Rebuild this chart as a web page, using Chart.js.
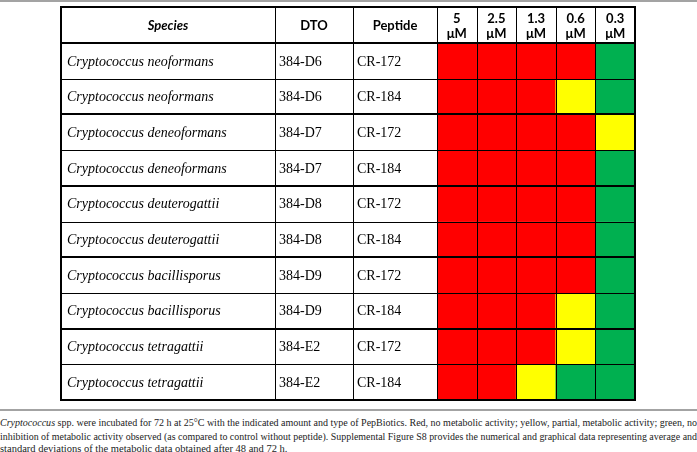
<!DOCTYPE html>
<html><head><meta charset="utf-8">
<script src="https://cdn.jsdelivr.net/npm/chart.js@4.4.1/dist/chart.umd.min.js"></script>
<style>
html,body{margin:0;padding:0;background:#fff}
body{width:697px;height:452px;overflow:hidden;position:relative}
#c{position:absolute;left:0;top:0}
.topline{position:absolute;left:0;top:0;width:697px;height:2px;background:#a3a3a3}
.sep{position:absolute;left:0;top:409px;width:697px;height:2px;background:#a3a3a3}
.cap{position:absolute;left:0;font-family:"Liberation Serif",serif;font-size:10.5px;line-height:13px;color:#222;white-space:nowrap;transform-origin:0 50%}
</style></head>
<body>
<div class="topline"></div>
<canvas id="c" width="697" height="405"></canvas>
<div class="sep"></div>
<div class="cap fit" style="top:416px"><i>Cryptococcus</i> spp. were incubated for 72 h at 25°C with the indicated amount and type of PepBiotics. Red, no metabolic activity; yellow, partial, metabolic activity; green, no</div>
<div class="cap fit" style="top:430px">inhibition of metabolic activity observed (as compared to control without peptide). Supplemental Figure S8 provides the numerical and graphical data representing average and</div>
<div class="cap" style="top:442px">standard deviations of the metabolic data obtained after 48 and 72 h.</div>
<script>
// ---- data ----
const concLabels = ['5 μM', '2.5 μM', '1.3 μM', '0.6 μM', '0.3 μM'];
const headers = ['Species', 'DTO', 'Peptide'];
const species = [
  'Cryptococcus neoformans', 'Cryptococcus neoformans',
  'Cryptococcus deneoformans', 'Cryptococcus deneoformans',
  'Cryptococcus deuterogattii', 'Cryptococcus deuterogattii',
  'Cryptococcus bacillisporus', 'Cryptococcus bacillisporus',
  'Cryptococcus tetragattii', 'Cryptococcus tetragattii'
];
const dto = ['384-D6', '384-D6', '384-D7', '384-D7', '384-D8', '384-D8', '384-D9', '384-D9', '384-E2', '384-E2'];
const peptide = ['CR-172', 'CR-184', 'CR-172', 'CR-184', 'CR-172', 'CR-184', 'CR-172', 'CR-184', 'CR-172', 'CR-184'];
// 0 = red (no metabolic activity), 1 = yellow (partial), 2 = green (no inhibition)
const activity = [
  [0, 0, 0, 0, 2],
  [0, 0, 0, 1, 2],
  [0, 0, 0, 0, 1],
  [0, 0, 0, 0, 2],
  [0, 0, 0, 0, 2],
  [0, 0, 0, 0, 2],
  [0, 0, 0, 0, 2],
  [0, 0, 0, 1, 2],
  [0, 0, 0, 1, 2],
  [0, 0, 1, 2, 2]
];

// ---- styles / layout ----
const statusColors = ['#FF0000', '#FFFF00', '#00B050'];
const colEdges = [61, 275, 353]; // left edges of text columns (px); heatmap starts at chartArea.left
const headFont = '"Lato", "Open Sans", sans-serif';
const bodyFont = '"Liberation Serif", "Times New Roman", serif';

// fit full-width caption lines to the page width
document.querySelectorAll('.fit').forEach(el => {
  const w = el.getBoundingClientRect().width;
  const spaces = (el.textContent.match(/ /g) || []).length;
  if (w > 697) {
    el.style.transform = 'scaleX(' + (697 / w) + ')';
  } else {
    el.style.wordSpacing = ((697 - w) / spaces) + 'px';
  }
});

const tablePlugin = {
  id: 'tablePlugin',
  afterDatasetsDraw(chart) {
    const ctx = chart.ctx, a = chart.chartArea, ys = chart.scales.y, xs = chart.scales.x;
    const top = xs.top, bottom = a.bottom, left = colEdges[0], right = a.right;
    const edges = colEdges.concat([a.left]);
    ctx.save();
    ctx.fillStyle = '#000';
    ctx.textBaseline = 'middle';
    ctx.textAlign = 'center';
    const hy = (top + a.top) / 2 + 1;
    headers.forEach((h, k) => {
      ctx.font = (k === 0 ? 'italic bold ' : 'bold ') + '13px ' + headFont;
      ctx.fillText(h, (edges[k] + edges[k + 1]) / 2, hy);
    });
    ctx.textAlign = 'left';
    species.forEach((s, i) => {
      const y = (ys.getPixelForValue(i) + ys.getPixelForValue(i + 1)) / 2 + 1;
      ctx.font = 'italic 14px ' + bodyFont;
      ctx.fillText(s, edges[0] + 6, y);
      ctx.font = '14px ' + bodyFont;
      ctx.fillText(dto[i], edges[1] + 4, y);
      ctx.fillText(peptide[i], edges[2] + 4, y);
    });
    ctx.strokeStyle = '#000';
    const hline = (y, w) => {
      ctx.lineWidth = w; ctx.beginPath();
      const yy = w % 2 ? Math.round(y) + 0.5 : Math.round(y);
      ctx.moveTo(left - 1, yy); ctx.lineTo(right + 1, yy); ctx.stroke();
    };
    const vline = (x, w) => {
      ctx.lineWidth = w; ctx.beginPath();
      const xx = w % 2 ? Math.round(x) + 0.5 : Math.round(x);
      ctx.moveTo(xx, top - 1); ctx.lineTo(xx, bottom + 1); ctx.stroke();
    };
    hline(top, 2);
    for (let i = 0; i <= species.length; i++) {
      const y = ys.getPixelForValue(i);
      hline(y, (i === 0 || i === species.length || i % 2 === 0) ? 2 : 1);
    }
    vline(edges[0], 2);
    vline(edges[1], 1);
    vline(edges[2], 1);
    vline(a.left, 1);
    for (let j = 0; j < concLabels.length - 1; j++) {
      vline((xs.getPixelForValue(j) + xs.getPixelForValue(j + 1)) / 2, 1);
    }
    vline(right, 2);
    ctx.restore();
  }
};

const datasets = activity.map((row, i) => ({
  label: species[i] + ' ' + peptide[i],
  data: row.map(() => [i, i + 1]),
  backgroundColor: row.map(v => statusColors[v]),
  borderWidth: 0,
  barPercentage: 1,
  categoryPercentage: 1,
  grouped: false
}));

new Chart(document.getElementById('c'), {
  type: 'bar',
  data: { labels: concLabels.map(s => s.split(' ')), datasets },
  options: {
    responsive: false,
    animation: false,
    layout: { padding: { left: 437, right: 62, top: 7, bottom: 5 } },
    plugins: { legend: { display: false }, tooltip: { enabled: false } },
    scales: {
      x: {
        position: 'top',
        offset: true,
        grid: { display: false, drawTicks: false },
        border: { display: false },
        ticks: { color: '#000', padding: 2.5, font: { family: headFont, weight: 'bold', size: 13, lineHeight: 1.1 } },
        afterFit(s) { s.height = 36; }
      },
      y: { display: false, min: 0, max: species.length, reverse: true }
    }
  },
  plugins: [tablePlugin]
});
</script>
</body></html>
